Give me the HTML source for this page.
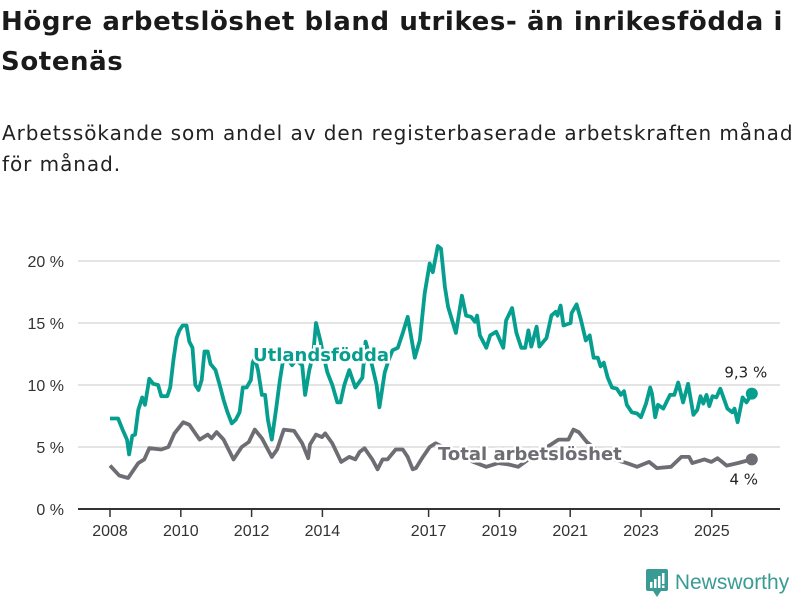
<!DOCTYPE html>
<html><head><meta charset="utf-8">
<style>
body{margin:0;background:#fff;font-family:"DejaVu Sans","Liberation Sans",sans-serif;}
#wrap{position:relative;width:800px;height:600px;overflow:hidden;}
h1{position:absolute;left:1px;top:2px;margin:0;font-size:26px;line-height:40px;font-weight:bold;color:#1a1a1a;letter-spacing:0.6px;white-space:nowrap;}
.sub{position:absolute;left:2px;top:118px;font-size:20px;line-height:31px;color:#222;letter-spacing:0.95px;white-space:nowrap;}
.logo{position:absolute;left:645px;top:567px;font-size:21px;color:#3a9b94;font-family:"Liberation Sans",sans-serif;}
</style></head><body>
<div id="wrap">
<h1>Högre arbetslöshet bland utrikes- än inrikesfödda i<br>Sotenäs</h1>
<div class="sub">Arbetssökande som andel av den registerbaserade arbetskraften månad<br>för månad.</div>
<svg id="chart" width="800" height="600" style="position:absolute;left:0;top:0"></svg>
<div class="logo"><svg width="24" height="30" style="vertical-align:-8px"><rect x="1" y="2" width="22" height="22" rx="2" fill="#3a9b94"/><polygon points="8,24 16,24 12,30" fill="#3a9b94"/><rect x="5" y="15" width="2.5" height="6" fill="#fff"/><rect x="9" y="12" width="2.5" height="9" fill="#fff"/><rect x="13" y="9" width="2.5" height="12" fill="#fff"/><rect x="17" y="6" width="2.5" height="11" fill="#fff"/><rect x="17" y="18.5" width="2.5" height="2.5" fill="#fff"/></svg> Newsworthy</div>
</div>
<script>
const yTicks=[0,5,10,15,20];
const yTickLabels=["0 %","5 %","10 %","15 %","20 %"];
const xTicks=[2008,2010,2012,2014,2017,2019,2021,2023,2025];
const utlYears=[2008.00,2008.23,2008.37,2008.48,2008.54,2008.63,2008.71,2008.80,2008.91,2008.99,2009.11,2009.22,2009.36,2009.45,2009.62,2009.70,2009.79,2009.88,2009.96,2010.05,2010.16,2010.24,2010.33,2010.41,2010.50,2010.59,2010.67,2010.76,2010.84,2010.98,2011.10,2011.21,2011.32,2011.44,2011.55,2011.66,2011.75,2011.86,2011.98,2012.03,2012.09,2012.18,2012.29,2012.38,2012.46,2012.57,2012.69,2012.80,2012.89,2013.00,2013.14,2013.26,2013.43,2013.51,2013.63,2013.74,2013.82,2013.94,2014.02,2014.14,2014.28,2014.42,2014.51,2014.62,2014.76,2014.93,2015.13,2015.22,2015.41,2015.53,2015.61,2015.76,2015.87,2015.98,2016.13,2016.27,2016.41,2016.61,2016.75,2016.89,2017.03,2017.12,2017.26,2017.35,2017.46,2017.55,2017.77,2017.94,2018.06,2018.20,2018.31,2018.37,2018.45,2018.63,2018.74,2018.91,2019.11,2019.19,2019.36,2019.48,2019.62,2019.73,2019.82,2019.90,2020.05,2020.13,2020.33,2020.47,2020.59,2020.64,2020.73,2020.81,2021.01,2021.04,2021.18,2021.30,2021.44,2021.55,2021.66,2021.78,2021.86,2021.95,2022.06,2022.18,2022.32,2022.43,2022.52,2022.60,2022.74,2022.89,2023.00,2023.14,2023.26,2023.31,2023.40,2023.48,2023.63,2023.82,2023.94,2024.05,2024.19,2024.33,2024.48,2024.59,2024.68,2024.76,2024.85,2024.93,2025.02,2025.13,2025.24,2025.44,2025.58,2025.64,2025.73,2025.87,2025.98,2026.13];
const utlValues=[7.3,7.3,6.3,5.6,4.4,5.9,6.0,8.0,9.0,8.4,10.5,10.1,10.0,9.1,9.1,9.8,12.0,13.8,14.4,14.8,14.8,13.5,13.0,10.0,9.6,10.4,12.7,12.7,11.7,11.2,10.0,8.8,7.8,6.9,7.2,7.8,9.8,9.8,10.4,11.8,12.2,11.2,9.2,9.2,7.2,5.6,8.0,10.4,12.0,12.2,11.6,12.0,11.6,9.2,11.2,12.5,15.0,13.6,12.5,11.0,10.0,8.6,8.6,10.0,11.2,9.8,10.6,13.5,11.5,10.0,8.2,11.0,12.0,12.8,13.0,14.2,15.5,12.2,13.6,17.4,19.8,19.1,21.2,21.0,17.9,16.3,14.2,17.2,15.6,15.5,15.1,15.6,14.0,13.0,14.0,14.3,13.0,15.2,16.2,14.2,13.0,13.0,14.4,13.1,14.7,13.1,13.8,15.6,15.9,15.6,16.4,14.8,15.0,15.8,16.5,15.3,13.6,14.0,12.2,12.2,11.5,11.8,10.6,9.8,9.7,9.2,9.5,8.4,7.8,7.7,7.4,8.5,9.8,9.3,7.4,8.4,8.1,9.2,9.2,10.2,8.6,10.1,7.6,8.0,9.1,8.5,9.2,8.3,9.1,9.0,9.7,8.1,7.8,8.1,7.0,9.0,8.6,9.3];
const totYears=[2008.00,2008.26,2008.51,2008.80,2008.97,2009.11,2009.45,2009.65,2009.82,2010.07,2010.24,2010.53,2010.76,2010.87,2011.01,2011.21,2011.49,2011.72,2011.92,2012.09,2012.29,2012.57,2012.72,2012.91,2013.20,2013.43,2013.60,2013.65,2013.82,2013.99,2014.08,2014.28,2014.53,2014.76,2014.93,2015.05,2015.19,2015.41,2015.56,2015.70,2015.84,2016.07,2016.27,2016.41,2016.55,2016.64,2016.84,2017.03,2017.20,2017.40,2017.69,2017.97,2018.26,2018.63,2018.97,2019.25,2019.53,2019.82,2020.24,2020.67,2020.95,2021.09,2021.24,2021.47,2021.81,2022.23,2022.60,2022.89,2023.23,2023.45,2023.85,2024.14,2024.36,2024.45,2024.79,2024.99,2025.16,2025.42,2025.73,2026.13];
const totValues=[3.5,2.7,2.5,3.7,4.0,4.9,4.8,5.0,6.1,7.0,6.8,5.6,6.0,5.7,6.2,5.6,4.0,5.0,5.4,6.4,5.7,4.2,4.8,6.4,6.3,5.3,4.1,5.2,6.0,5.8,6.1,5.3,3.8,4.2,4.0,4.6,4.9,4.0,3.2,4.0,4.0,4.8,4.8,4.2,3.2,3.3,4.2,5.0,5.3,5.0,4.6,4.2,3.8,3.4,3.7,3.6,3.4,4.0,4.8,5.6,5.6,6.4,6.2,5.4,4.6,4.0,3.7,3.4,3.8,3.3,3.4,4.2,4.2,3.7,4.0,3.8,4.1,3.5,3.7,4.0];

const NS="http://www.w3.org/2000/svg";
const svg=document.getElementById('chart');
const x=yr=>110+(yr-2008)*35.4;
const y=v=>509-v*12.4;
function mk(tag,attrs,parent){const e=document.createElementNS(NS,tag);for(const k in attrs)e.setAttribute(k,attrs[k]);(parent||svg).appendChild(e);return e;}
yTicks.forEach((t,i)=>{
  if(t>0){const g=mk('line',{x1:78,x2:780,y1:y(t),y2:y(t),stroke:'#dcdcdc','stroke-width':1.5});
  
  }
  const tx=mk('text',{x:64,y:y(t)+6,'text-anchor':'end','font-size':16,fill:'#333','font-family':'Liberation Sans, sans-serif'});
  tx.textContent=yTickLabels[i];
  
  
});
const ax=mk('line',{x1:78,x2:780,y1:509,y2:509,stroke:'#333','stroke-width':2});


xTicks.forEach(t=>{
  const tk=mk('line',{x1:x(t),x2:x(t),y1:509,y2:517,stroke:'#333','stroke-width':1.5});
  
  
  const tx=mk('text',{x:x(t),y:536,'text-anchor':'middle','font-size':16,fill:'#333','font-family':'Liberation Sans, sans-serif'});
  tx.textContent=t;
  
  
});
function path(xs,vs){return xs.map((yr,i)=>(i?'L':'M')+x(yr).toFixed(1)+','+y(vs[i]).toFixed(1)).join('');}
const tl=mk('path',{d:path(totYears,totValues),fill:'none',stroke:'#6e6d73','stroke-width':3.8,'stroke-linejoin':'round'});


const ul=mk('path',{d:path(utlYears,utlValues),fill:'none',stroke:'#069e8f','stroke-width':3.8,'stroke-linejoin':'round'});


const lu=utlYears.length-1, lt=totYears.length-1;
const d1=mk('circle',{cx:x(utlYears[lu]),cy:y(utlValues[lu]),r:6,fill:'#069e8f'});


const d2=mk('circle',{cx:x(totYears[lt]),cy:y(totValues[lt]),r:6,fill:'#6e6d73'});


const v1=mk('text',{x:x(utlYears[lu])-6,y:y(utlValues[lu])-16,'text-anchor':'middle','font-size':15,fill:'#222','font-family':'DejaVu Sans, sans-serif'});
v1.textContent=String(utlValues[lu]).replace('.',',')+' %';


const v2=mk('text',{x:x(totYears[lt])-8,y:y(totValues[lt])+25,'text-anchor':'middle','font-size':15,fill:'#222','font-family':'DejaVu Sans, sans-serif'});
v2.textContent=String(totValues[lt]).replace('.',',')+' %';


const l1=mk('text',{x:253,y:361,'font-size':18,'font-weight':'bold',fill:'#069e8f',stroke:'#fff','stroke-width':5,'paint-order':'stroke','font-family':'DejaVu Sans, sans-serif'});
l1.textContent='Utlandsfödda';


const l2=mk('text',{x:438,y:460,'font-size':18,'font-weight':'bold',fill:'#6e6d73',stroke:'#fff','stroke-width':5,'paint-order':'stroke','font-family':'DejaVu Sans, sans-serif'});
l2.textContent='Total arbetslöshet';


</script>
</body></html>
